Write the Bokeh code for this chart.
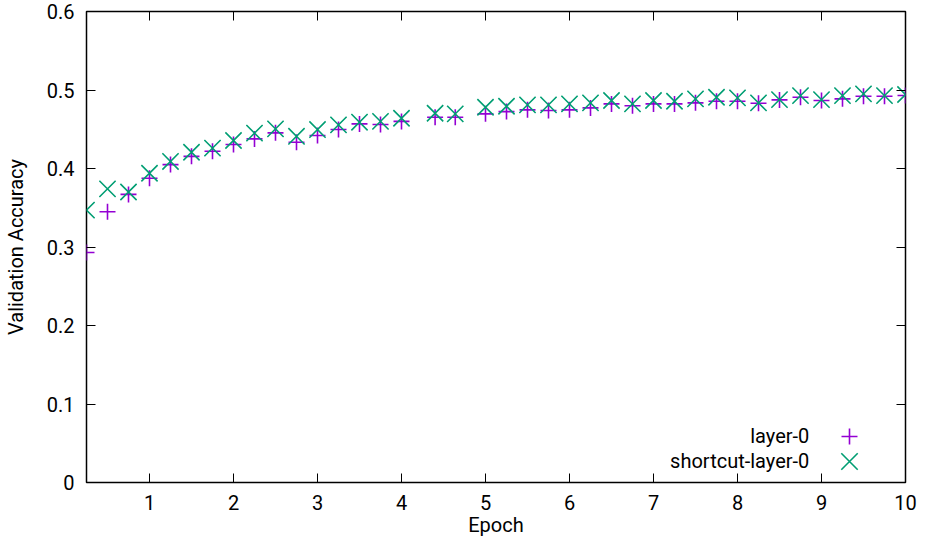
from bokeh.plotting import figure
from bokeh.models import (FixedTicker, LinearAxis, Legend, LegendItem, Label,
                          CustomJSTickFormatter, Range1d)
from bokeh.embed import file_html
from bokeh.resources import INLINE

epochs = [0.25, 0.5, 0.75, 1.0, 1.25, 1.5, 1.75, 2.0, 2.25, 2.5, 2.75, 3.0, 3.25,
          3.5, 3.75, 4.0, 4.4, 4.64, 5.0, 5.25, 5.5, 5.75, 6.0, 6.25, 6.5, 6.75,
          7.0, 7.25, 7.5, 7.75, 8.0, 8.25, 8.5, 8.75, 9.0, 9.25, 9.5, 9.75, 10.0]
layer0 = [0.293, 0.345, 0.367, 0.3875, 0.405, 0.4155, 0.422, 0.4305, 0.4377, 0.4454,
          0.4334, 0.442, 0.4496, 0.4568, 0.456, 0.460, 0.4653, 0.4653, 0.4696, 0.4725,
          0.4747, 0.4738, 0.4747, 0.4772, 0.4823, 0.480, 0.4823, 0.4823, 0.4836, 0.4857,
          0.4857, 0.4832, 0.4874, 0.4908, 0.4866, 0.4887, 0.492, 0.492, 0.4929]
shortcut0 = [0.347, 0.374, 0.370, 0.394, 0.409, 0.4207, 0.426, 0.4356, 0.445, 0.4505,
             0.441, 0.4496, 0.4556, 0.459, 0.460, 0.464, 0.4704, 0.4696, 0.478, 0.4793,
             0.481, 0.481, 0.4823, 0.4836, 0.4866, 0.4823, 0.4866, 0.4857, 0.4887, 0.4908,
             0.490, 0.4836, 0.4878, 0.4929, 0.4878, 0.4929, 0.495, 0.4929, 0.4942]
x_ticks = [1, 2, 3, 4, 5, 6, 7, 8, 9, 10]
y_ticks = [0, 0.1, 0.2, 0.3, 0.4, 0.5, 0.6]
y_tick_labels = ["0", "0.1", "0.2", "0.3", "0.4", "0.5", "0.6"]
series_names = ["layer-0", "shortcut-layer-0"]

FONT = "Roboto"
PURPLE = "#9400D3"
GREEN = "#009E73"

W, H = 917, 539
BL, BR, BT, BB = 80, 12, 11, 57

p = figure(width=W, height=H, output_backend="svg", toolbar_location=None,
           x_range=Range1d(0.25, 10), y_range=Range1d(0, 0.6),
           min_border_left=BL, min_border_right=BR, min_border_top=BT,
           min_border_bottom=BB)
p.grid.visible = False
p.outline_line_color = "black"
p.outline_line_width = 1.5
p.background_fill_color = "white"
p.border_fill_color = "white"

for ax in (p.xaxis[0], p.yaxis[0]):
    ax.axis_line_color = None
    ax.major_tick_in = 9
    ax.major_tick_out = 0
    ax.major_tick_line_color = "black"
    ax.minor_tick_line_color = None
    ax.major_label_text_font = FONT
    ax.major_label_text_font_size = "20px"
    ax.major_label_text_color = "black"
    ax.axis_label_text_font = FONT
    ax.axis_label_text_font_size = "20px"
    ax.axis_label_text_font_style = "normal"
    ax.axis_label_text_color = "black"

p.xaxis[0].ticker = FixedTicker(ticks=x_ticks)
p.yaxis[0].ticker = FixedTicker(ticks=y_ticks)
p.yaxis[0].major_label_overrides = {t: s for t, s in zip(y_ticks, y_tick_labels)}
p.xaxis[0].axis_label = "Epoch"
p.yaxis[0].axis_label = "Validation Accuracy"
p.xaxis[0].major_label_standoff = 12
p.xaxis[0].axis_label_standoff = 0
p.yaxis[0].major_label_standoff = 12
p.yaxis[0].axis_label_standoff = 16

blank = CustomJSTickFormatter(code="return ''")
top_ax = LinearAxis(ticker=FixedTicker(ticks=x_ticks), formatter=blank,
                    major_label_text_font_size="1px", major_label_standoff=0,
                    major_tick_in=9, major_tick_out=0, axis_line_color=None,
                    minor_tick_line_color=None, major_tick_line_color="black")
right_ax = LinearAxis(ticker=FixedTicker(ticks=y_ticks), formatter=blank,
                      major_label_text_font_size="1px", major_label_standoff=0,
                      major_tick_in=9, major_tick_out=0, axis_line_color=None,
                      minor_tick_line_color=None, major_tick_line_color="black")
p.add_layout(top_ax, "above")
p.add_layout(right_ax, "right")

CROSS_SIZE = 16
X_SIZE = 23
r1 = p.scatter(epochs, layer0, marker="cross", size=CROSS_SIZE, line_color=PURPLE,
               line_width=1.6)
r2 = p.scatter(epochs, shortcut0, marker="x", size=X_SIZE, line_color=GREEN,
               line_width=1.6)

# legend keys (glyphs drawn by Bokeh legends, text as labels to the left)
frame_w = 817
key_cx = frame_w - 54
for r, msize, cy in ((r1, CROSS_SIZE, 46), (r2, X_SIZE, 21)):
    box = msize / 0.4
    lg = Legend(items=[LegendItem(label=" ", renderers=[r])],
                location=(key_cx - box / 2, cy - box / 2),
                glyph_width=int(round(box)), glyph_height=int(round(box)),
                label_width=0, label_height=0,
                label_standoff=0, padding=0, margin=0, spacing=0,
                border_line_color=None, background_fill_alpha=0,
                label_text_font_size="1px")
    p.add_layout(lg)

for name, yv in zip(series_names, (0.0586, 0.0268)):
    p.add_layout(Label(x=8.855, y=yv, text=name, text_align="right",
                       text_baseline="middle", text_font=FONT,
                       text_font_size="20px", text_color="black"))

open("out.html", "w").write(file_html(p, INLINE))
